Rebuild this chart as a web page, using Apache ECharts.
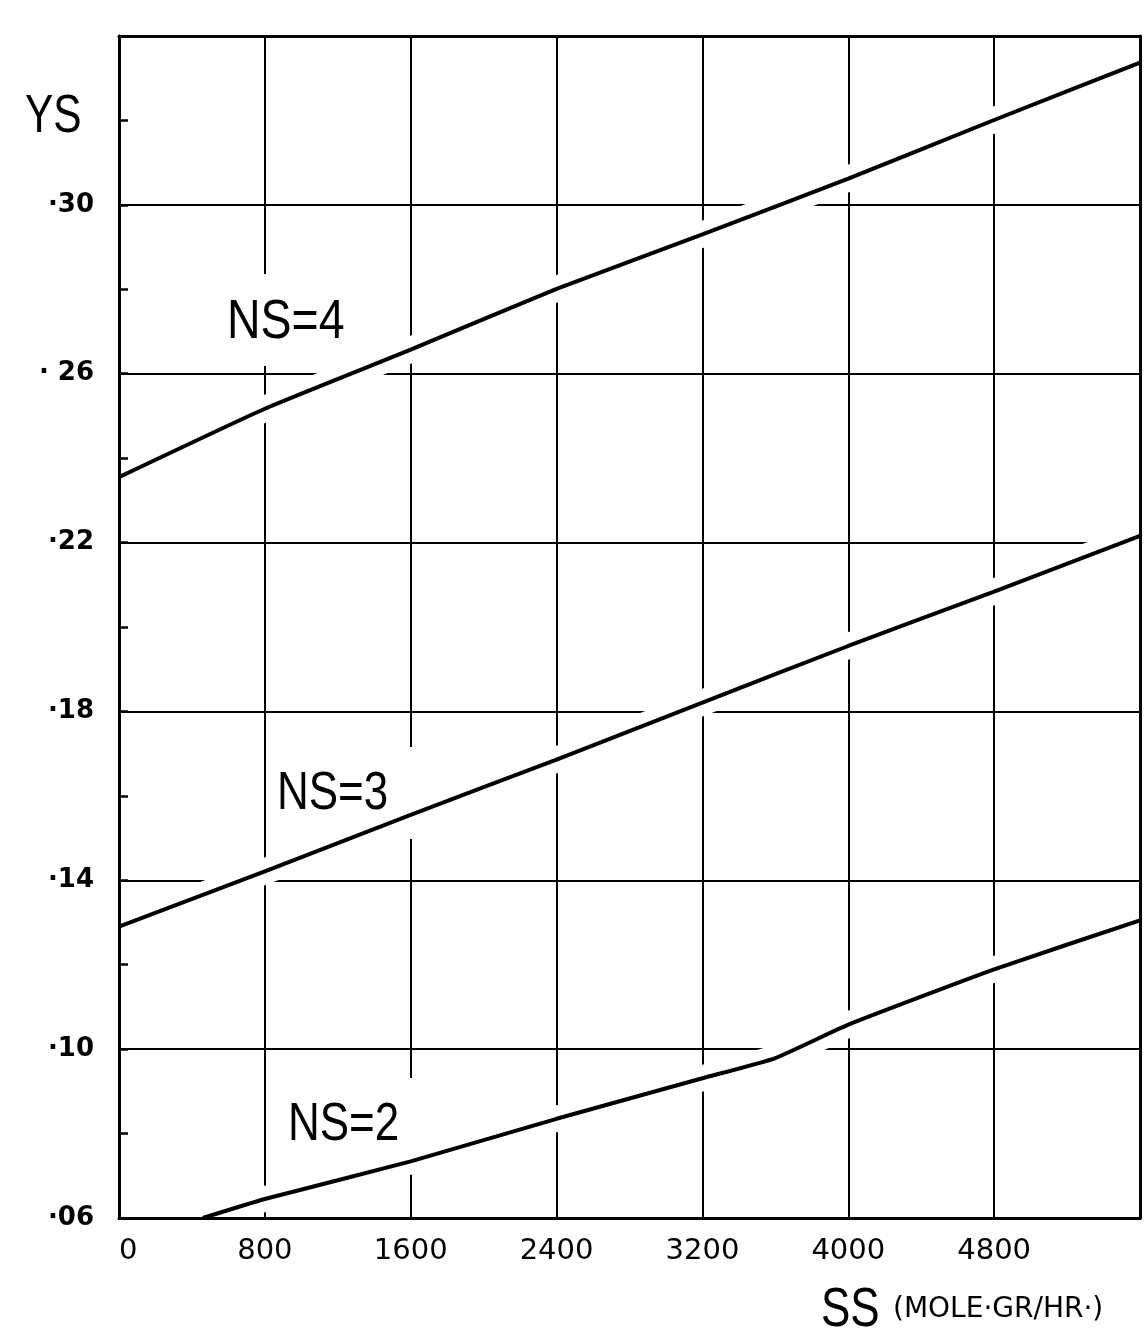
<!DOCTYPE html>
<html><head><meta charset="utf-8">
<script src="https://cdn.jsdelivr.net/npm/echarts@6/dist/echarts.min.js"></script>
<style>html,body{margin:0;padding:0;background:#fff}#c{width:1145px;height:1339px}</style>
</head><body><div id="c"></div>
<script>
// ---- data ----
const ssX   = [0, 800, 1600, 2400, 3200, 4000, 4800, 5600];
const ns4   = [0.2355, 0.2517, 0.2657, 0.2801, 0.2930, 0.3062, 0.3201, 0.3337];
const ns3   = [0.1290, 0.1421, 0.1555, 0.1686, 0.1821, 0.1955, 0.2084, 0.2216];
const ns2X  = [460, 800, 1600, 2400, 3200, 3600, 4000, 4800, 5600];
const ns2   = [0.0600, 0.0645, 0.0734, 0.0835, 0.0931, 0.0979, 0.1058, 0.1189, 0.1305];
const yLabelValues = [0.06, 0.10, 0.14, 0.18, 0.22, 0.26, 0.30];
const yLabelTexts  = ['·06', '·10', '·14', '·18', '·22', '· 26', '·30'];
const yGridValues  = [0.10, 0.14, 0.18, 0.22, 0.26, 0.30];
const curveNames   = ['NS=4', 'NS=3', 'NS=2'];

const pairs = (xs, ys) => xs.map((x, i) => [x, ys[i]]);
const curves = [pairs(ssX, ns4), pairs(ssX, ns3), pairs(ns2X, ns2)];

const chart = echarts.init(document.getElementById('c'), null, {renderer: 'canvas'});
const BLACK = '#000';
const xBase = {type: 'value', min: 0, max: 5600, interval: 800, gridIndex: 0};
const yBase = {type: 'value', min: 0.06, max: 0.34, interval: 0.02, gridIndex: 0};

const series = [{
  type: 'line', data: [], z: 1, silent: true, symbol: 'none',
  markLine: {
    z: 1, zlevel: 0,
    silent: true, symbol: ['none', 'none'], animation: false,
    label: {show: false},
    lineStyle: {color: BLACK, width: 2, type: 'solid'},
    emphasis: {disabled: true},
    data: yGridValues.map(v => ({yAxis: v}))
  }
}];
curves.forEach((d, i) => {
  series.push({
    type: 'line', name: curveNames[i] + ' halo', data: d, z: 2, silent: true,
    symbol: 'none', smooth: 0.15,
    lineStyle: {color: '#fff', width: 26, cap: 'butt'}
  });
});
curves.forEach((d, i) => {
  series.push({
    type: 'line', name: curveNames[i], data: d, z: 3, silent: true,
    symbol: 'none', smooth: 0.15,
    lineStyle: {color: BLACK, width: 4}
  });
});

const narrow = 'Liberation Sans, Arial, sans-serif';
function label(text, x, y, size, sx, family, weight) {
  return {type: 'text', x: x, y: y, z: 50, scaleX: sx, silent: true,
    style: {text: text, fill: BLACK, font: (weight || 'normal') + ' ' + size + 'px ' + (family || narrow),
      align: 'left', verticalAlign: 'middle', textAlign: 'left', textVerticalAlign: 'middle'}};
}
function mask(x, y, w, h) {
  return {type: 'rect', z: 2, silent: true, shape: {x: x, y: y, width: w, height: h}, style: {fill: '#fff'}};
}

chart.setOption({
  animation: false,
  backgroundColor: '#fff',
  grid: {left: 119, right: 5, top: 36, bottom: 121, containLabel: false},
  xAxis: [
    Object.assign({}, xBase, {position: 'bottom', z: 10,
      axisLine: {show: true, onZero: false, lineStyle: {color: BLACK, width: 3}},
      axisTick: {show: false},
      axisLabel: {show: true, color: BLACK, fontSize: 29, fontFamily: 'DejaVu Sans', margin: 19,
        showMaxLabel: false, alignMinLabel: 'left', formatter: v => String(v)},
      splitLine: {show: false}}),
    Object.assign({}, xBase, {position: 'top', z: 10,
      axisLine: {show: true, onZero: false, lineStyle: {color: BLACK, width: 3}},
      axisTick: {show: false}, axisLabel: {show: false}, splitLine: {show: false}}),
    Object.assign({}, xBase, {position: 'top', z: 0,
      axisLine: {show: false}, axisTick: {show: false}, axisLabel: {show: false},
      splitLine: {show: true, lineStyle: {color: BLACK, width: 2}}})
  ],
  yAxis: [
    Object.assign({}, yBase, {position: 'left', z: 10,
      axisLine: {show: true, onZero: false, lineStyle: {color: BLACK, width: 3}},
      axisTick: {show: true, inside: true, length: 9, lineStyle: {color: BLACK, width: 2.5}},
      axisLabel: {show: true, color: BLACK, fontSize: 26, fontWeight: 'bold', fontFamily: 'DejaVu Sans', margin: 25,
        formatter: v => {
          const k = yLabelValues.findIndex(t => Math.abs(t - v) < 1e-6);
          return k < 0 ? '' : yLabelTexts[k];
        }},
      splitLine: {show: false}}),
    Object.assign({}, yBase, {position: 'right', z: 10,
      axisLine: {show: true, onZero: false, lineStyle: {color: BLACK, width: 3}},
      axisTick: {show: false}, axisLabel: {show: false}, splitLine: {show: false}})
  ],
  series: series,
  graphic: [
    mask(221, 274, 150, 92),
    mask(271, 747, 143, 92),
    mask(282, 1078, 144, 92),
    label('NS=4', 227, 323, 56, 0.83),
    label('NS=3', 277, 794, 53, 0.83),
    label('NS=2', 288, 1125, 53, 0.83),
    label('YS', 25, 117, 53, 0.8),
    label('SS', 821, 1311, 55, 0.8),
    label('(MOLE·GR/HR·)', 893, 1310, 28, 1, 'DejaVu Sans')
  ]
});
</script></body></html>
